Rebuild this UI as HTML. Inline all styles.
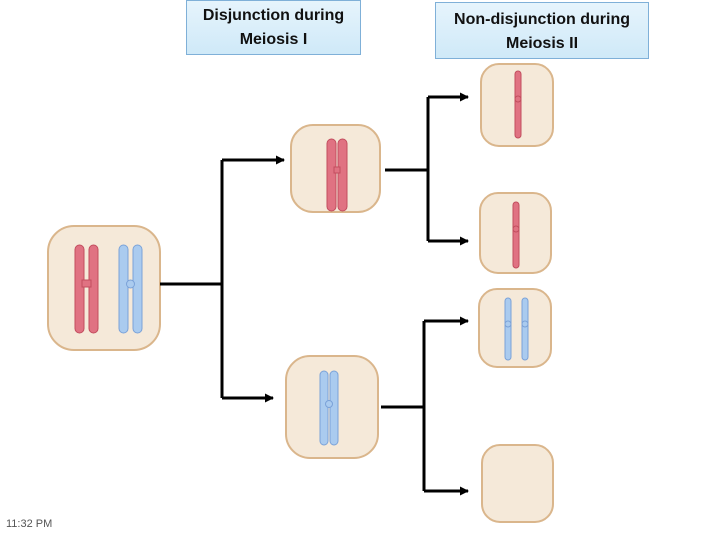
<!DOCTYPE html>
<html><head><style>
html,body{margin:0;padding:0;background:#fff;width:720px;height:540px;overflow:hidden}
.lbl{position:absolute;background:linear-gradient(#e6f4fc,#cfe9f8);border:1px solid #7fb0d8;font-family:"Liberation Sans",sans-serif;font-weight:bold;font-size:16px;line-height:24px;text-align:center;color:#111;box-sizing:border-box}
.t{position:absolute;left:6px;top:518px;font-family:"Liberation Sans",sans-serif;font-size:11px;color:#555}
</style></head><body>
<div class="lbl" style="left:186px;top:0;width:175px;height:55px;padding-top:3px">Disjunction during<br>Meiosis I</div>
<div class="lbl" style="left:435px;top:2px;width:214px;height:57px;padding-top:5px">Non-disjunction during<br>Meiosis II</div>
<div class="t">11:32 PM</div>
<svg width="720" height="540" style="position:absolute;left:0;top:0">
<defs>
<marker id="a" markerWidth="9" markerHeight="9" refX="8" refY="4.5" orient="auto" markerUnits="userSpaceOnUse"><path d="M0,0 L9,4.5 L0,9z" fill="#000"/></marker>
</defs>
<g fill="#f5e9d9" stroke="#dab68c" stroke-width="2">
<rect x="48" y="226" width="112" height="124" rx="26"/>
<rect x="291" y="125" width="89" height="87" rx="22"/>
<rect x="286" y="356" width="92" height="102" rx="24"/>
<rect x="481" y="64" width="72" height="82" rx="18"/>
<rect x="480" y="193" width="71" height="80" rx="18"/>
<rect x="479" y="289" width="72" height="78" rx="18"/>
<rect x="482" y="445" width="71" height="77" rx="18"/>
</g>
<g stroke="#000" stroke-width="3" fill="none">
<path d="M160 284H222M222 160V398"/>
<path d="M222 160H284" marker-end="url(#a)"/>
<path d="M222 398H273" marker-end="url(#a)"/>
<path d="M385 170H428M428 97V241"/>
<path d="M428 97H468" marker-end="url(#a)"/>
<path d="M428 241H468" marker-end="url(#a)"/>
<path d="M381 407H424M424 321V491"/>
<path d="M424 321H468" marker-end="url(#a)"/>
<path d="M424 491H468" marker-end="url(#a)"/>
</g>
<g fill="#e07282" stroke="#c24d5e" stroke-width="1">
<rect x="75" y="245" width="9" height="88" rx="4.5"/><rect x="89" y="245" width="9" height="88" rx="4.5"/>
<rect x="327" y="139" width="9" height="72" rx="4.5"/><rect x="338" y="139" width="9" height="72" rx="4.5"/>
<rect x="515" y="71" width="6" height="67" rx="3"/>
<rect x="513" y="202" width="6" height="66" rx="3"/>
</g>
<g fill="#aacbef" stroke="#7ba2d8" stroke-width="1">
<rect x="119" y="245" width="9" height="88" rx="4.5"/><rect x="133" y="245" width="9" height="88" rx="4.5"/>
<rect x="320" y="371" width="8" height="74" rx="4"/><rect x="330" y="371" width="8" height="74" rx="4"/>
<rect x="505" y="298" width="6" height="62" rx="3"/><rect x="522" y="298" width="6" height="62" rx="3"/>
<circle cx="130.5" cy="284" r="4"/><circle cx="329" cy="404" r="3.5"/>
<circle cx="508" cy="324" r="3"/><circle cx="525" cy="324" r="3"/>
</g>
<g fill="#e07282" stroke="#c24d5e" stroke-width="1">
<rect x="82" y="280" width="9" height="7"/><rect x="334" y="167" width="6" height="6"/>
<circle cx="518" cy="99" r="3"/><circle cx="516" cy="229" r="3"/>
</g>
</svg>
</body></html>
